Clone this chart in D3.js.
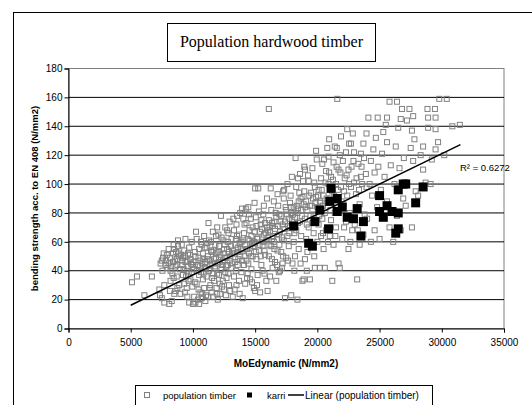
<!DOCTYPE html>
<html>
<head>
<meta charset="utf-8">
<script src="https://cdn.jsdelivr.net/npm/d3@7"></script>
<style>
  body { margin: 0; background: #fff; }
  svg { display: block; }
  text { font-family: "Liberation Sans", Arial, sans-serif; }
</style>
</head>
<body>
<div id="chart"></div>
<script>
// data
var xTicks = [0, 5000, 10000, 15000, 20000, 25000, 30000, 35000];
var yTicks = [0, 20, 40, 60, 80, 100, 120, 140, 160, 180];

var populationTimber = [
  [5100,32],[5500,36],[6100,23],[6700,36],[7300,27],[7400,45],[7500,21],[7500,47],[7600,49],[7700,18],[7800,44],[7900,51],[7350,23],[7700,30],[7950,42],
  [8100,17],[8200,40],[8200,33],[8300,19],[8400,46],[8400,52],[8500,24],[8500,55],[8600,26],[8600,43],[8700,48],[8700,36],[8800,57],[8800,61],[8900,50],[8900,30],[8050,45],[8350,38],[8650,53],[8950,41],
  [9000,24],[9100,44],[9100,58],[9200,37],[9200,49],[9300,31],[9300,54],[9400,46],[9400,62],[9500,28],[9500,40],[9600,52],[9600,43],[9700,18],[9700,56],[9800,34],[9800,48],[9900,60],[9900,39],[9050,51],[9450,36],[9850,45],
  [10000,17],[10100,22],[10100,41],[10200,18],[10200,50],[10300,31],[10300,62],[10400,20],[10400,44],[10500,17],[10500,55],[10500,37],[10600,25],[10600,47],[10700,21],[10700,58],[10800,34],[10800,52],[10900,28],[10900,64],[10950,42],[10250,67],[10650,39],[10850,48],
  [11000,19],[11000,46],[11100,36],[11100,56],[11200,22],[11200,50],[11300,40],[11300,61],[11400,30],[11400,44],[11500,25],[11500,53],[11600,38],[11600,67],[11700,48],[11700,33],[11800,58],[11800,42],[11900,28],[11900,52],[11950,70],[11250,73],[11550,45],[11850,64],[11150,48],[11650,54],
  [12000,20],[12000,45],[12100,37],[12100,57],[12200,24],[12200,51],[12300,41],[12300,63],[12400,33],[12400,47],[12500,27],[12500,55],[12600,39],[12600,70],[12700,49],[12700,35],[12800,60],[12800,44],[12900,30],[12900,53],[12950,74],[12250,78],[12550,58],[12850,66],[12150,46],[12650,43],[12450,52],
  [13000,26],[13000,50],[13100,42],[13100,62],[13200,22],[13200,54],[13300,36],[13300,68],[13400,46],[13400,58],[13500,30],[13500,72],[13600,44],[13600,56],[13700,33],[13700,65],[13800,50],[13800,80],[13900,39],[13900,60],[13950,83],[13250,76],[13650,48],[13850,55],[13150,52],[13450,62],
  [14000,21],[14000,54],[14100,44],[14100,66],[14200,31],[14200,58],[14300,47],[14300,73],[14400,38],[14400,62],[14500,52],[14500,79],[14600,34],[14600,56],[14700,64],[14700,41],[14800,70],[14800,50],[14900,28],[14900,60],[14950,87],[14250,83],[14550,68],[14850,57],[14150,50],[14650,76],
  [15000,26],[15000,59],[15100,48],[15100,71],[15200,37],[15200,63],[15300,54],[15300,81],[15400,25],[15400,67],[15500,44],[15500,75],[15600,57],[15600,40],[15700,65],[15700,85],[15800,51],[15800,73],[15900,33],[15900,61],[15950,90],[15250,97],[15550,69],[15850,66],[16100,152],[15450,72],
  [16000,26],[16000,63],[16100,50],[16100,75],[16200,36],[16200,67],[16300,57],[16300,82],[16400,42],[16400,71],[16500,60],[16500,88],[16600,46],[16600,69],[16700,33],[16700,77],[16800,54],[16800,93],[16900,39],[16900,65],[16950,79],[16250,97],[16550,74],[16850,85],[16150,70],
  [17000,40],[17000,67],[17100,53],[17100,78],[17200,45],[17200,72],[17300,61],[17300,90],[17400,21],[17400,74],[17500,49],[17500,82],[17600,64],[17600,100],[17700,57],[17700,76],[17800,70],[17800,87],[17900,23],[17900,80],[17950,105],[17250,95],[17550,79],[17850,84],[17150,42],
  [18000,45],[18000,71],[18100,60],[18100,84],[18200,50],[18200,77],[18300,68],[18300,98],[18400,20],[18400,80],[18500,55],[18500,88],[18600,74],[18600,107],[18700,64],[18700,82],[18800,33],[18800,91],[18900,34],[18900,86],[18950,112],[18250,118],[18550,94],[18850,102],[18450,83],
  [19000,48],[19000,76],[19100,62],[19100,88],[19200,53],[19200,82],[19300,70],[19300,102],[19400,34],[19400,85],[19500,58],[19500,94],[19600,73],[19600,111],[19700,66],[19700,79],[19800,42],[19800,98],[19900,91],[19900,123],[19950,117],[19250,106],[19650,90],
  [20000,60],[20000,84],[20100,72],[20100,96],[20200,42],[20200,88],[20300,64],[20300,104],[20400,76],[20400,114],[20500,55],[20500,92],[20600,42],[20600,80],[20700,68],[20700,109],[20800,87],[20800,125],[20900,100],[20900,119],[20950,131],[20250,87],
  [21000,64],[21000,90],[21100,75],[21100,105],[21200,33],[21200,95],[21300,58],[21300,115],[21400,80],[21400,126],[21500,70],[21500,100],[21600,159],[21600,85],[21700,45],[21700,110],[21800,42],[21800,120],[21900,133],[21900,98],
  [22000,62],[22100,86],[22200,104],[22300,74],[22300,122],[22400,92],[22400,138],[22500,55],[22500,110],[22600,80],[22700,98],[22700,128],[22800,68],[22850,135],[22900,116],[22950,101],
  [23000,72],[23100,93],[23200,34],[23300,114],[23400,58],[23400,86],[23500,121],[23600,100],[23700,65],[23700,128],[23800,79],[23900,107],[23950,135],[23500,105],
  [24000,76],[24100,146],[24200,100],[24300,60],[24300,116],[24400,92],[24500,124],[24600,68],[24600,108],[24700,132],[24800,84],[24850,146],[24900,112],
  [25000,62],[25100,96],[25200,121],[25300,136],[25300,78],[25400,105],[25500,141],[25600,88],[25600,129],[25800,157],[25800,70],[25900,113],[25600,146],
  [26100,60],[26200,100],[26300,126],[26400,157],[26400,78],[26500,139],[26600,111],[26700,68],[26700,145],[26800,152],[26900,90],[26950,118],
  [27100,85],[27200,144],[27200,101],[27400,152],[27500,125],[27600,70],[27700,147],[27700,116],[27800,131],[27900,95],[27600,137],
  [28100,92],[28300,120],[28500,110],[28500,126],[28700,101],[28900,146],[28900,139],[28850,152],
  [29200,117],[29500,124],[29500,146],[29500,138],[29700,129],[29800,159],[29450,152],[29100,100],
  [30400,159],[30850,140],[31450,141],[30200,120],
  // denser core of the cloud
  [7550,40],[7650,52],[7850,47],[8050,55],[8150,49],[8250,43],[8450,58],[8550,47],[8750,44],[8850,52],[9150,47],[9250,41],[9350,50],[9550,47],[9650,38],[9750,51],[9950,44],[8450,35],[8750,28],[9350,25],[9550,22],[9650,33],[9950,29],[8150,26],
  [10050,46],[10150,53],[10350,40],[10450,49],[10550,43],[10750,45],[10850,38],[10950,56],[11050,41],[11150,59],[11350,47],[11450,54],[11550,35],[11750,43],[11850,49],[11950,38],[12050,53],[12150,31],[12350,44],[12450,61],[12550,49],[12750,55],[12850,38],[12950,47],[10150,32],[10450,27],[10750,24],[11050,23],[11350,28],[11650,22],[11950,24],[12350,29],[12650,23],[12050,65],[11450,60],[10650,60],[12750,68],
  [13050,57],[13150,45],[13350,52],[13450,40],[13550,64],[13650,53],[13750,59],[13950,47],[14050,61],[14150,72],[14350,55],[14450,45],[14550,61],[14650,50],[14750,59],[14950,67],[15050,53],[15150,62],[15350,58],[15450,50],[15650,60],[15750,54],[15950,70],[13350,27],[13750,24],[14350,35],[14750,32],[15150,30],[15750,38],[13550,78],[14050,76],[14450,84],[15050,77],[15650,79],
  [16050,68],[16150,58],[16350,73],[16450,64],[16550,55],[16650,80],[16750,62],[16850,71],[16950,58],[17050,74],[17150,63],[17350,69],[17450,84],[17650,71],[17750,66],[17850,92],[17950,75],[18050,79],[18150,66],[18350,85],[18450,73],[18650,90],[18750,78],[18950,95],[19050,84],[19150,72],[19350,92],[19450,78],[19550,85],[19750,101],[19850,87],[16350,48],[16750,44],[17250,50],[17650,47],[18150,40],[18650,45],[19150,40],[19750,50],
  [20050,92],[20150,78],[20350,96],[20450,85],[20650,101],[20750,90],[20950,108],[21050,82],[21250,103],[21350,92],[21550,112],[21650,96],[21850,108],[21950,88],[22050,116],[22150,95],[22350,106],[22550,100],[22750,112],[22950,122],[23150,104],[23350,96],[23550,112],[23750,118],[23950,98],[20450,66],[20850,60],[21450,64],[22150,70],[22650,60],[23250,68],
  [15000,97],[17330,96],[19010,110],[18450,104],[20540,117],[21560,125],[22550,128]
];

var karri = [
  [18100,71],[19300,59],[19600,57],[19800,74],[20200,82],[21100,97],[20900,69],[21000,88],
  [21600,90],[21600,81],[22000,84],[22400,77],[22900,76],[23200,83],[23500,64],[23700,74],
  [25000,92],[25000,81],[25300,77],[25600,85],[26000,81],[26300,66],[26500,69],[26500,96],
  [26900,100],[27100,100],[26500,80],[27900,87],[28500,98]
];

// linear trend line (population timber), end points
var trendLine = [[5000,16.1],[31500,127.3]];
var rSquared = "R\u00b2 = 0.6272";

var svgWidth = 532;
var svgHeight = 405;

var plot = { left: 68.5, right: 504, top: 68.5, bottom: 328.5 };

var svg = d3.select("#chart")
  .append("svg")
  .attr("width", svgWidth)
  .attr("height", svgHeight);

// outer chart border (runs off the right and bottom edge)
svg.append("rect")
  .attr("x", 13.5).attr("y", 12.5)
  .attr("width", 540).attr("height", 420)
  .attr("fill", "none").attr("stroke", "#000").attr("stroke-width", 1);

// title box
svg.append("rect")
  .attr("x", 167.5).attr("y", 23.5)
  .attr("width", 208).attr("height", 38)
  .attr("fill", "#fff").attr("stroke", "#000");

svg.append("text")
  .attr("x", 271.5).attr("y", 47)
  .attr("text-anchor", "middle")
  .style("font-family", "'Liberation Serif', 'Times New Roman', serif")
  .attr("font-size", "16px")
  .text("Population hardwood timber");

var x = d3.scaleLinear().domain([0, 35000]).range([plot.left, plot.right]);
var y = d3.scaleLinear().domain([0, 180]).range([plot.bottom, plot.top]);

// plot area border
svg.append("rect")
  .attr("x", plot.left).attr("y", plot.top)
  .attr("width", plot.right - plot.left).attr("height", plot.bottom - plot.top)
  .attr("fill", "none").attr("stroke", "#808080");

// gridlines
svg.append("g")
  .selectAll("line")
  .data(yTicks.filter(d => d > 0 && d < 180))
  .enter()
  .append("line")
  .attr("x1", plot.left).attr("x2", plot.right)
  .attr("y1", d => y(d)).attr("y2", d => y(d))
  .attr("stroke", "#000").attr("stroke-width", 1);

// axes
var leftAxis = d3.axisLeft(y).tickValues(yTicks).tickSize(4).tickPadding(2).tickFormat(d3.format("d"));
var bottomAxis = d3.axisBottom(x).tickValues(xTicks).tickSize(4).tickPadding(6).tickFormat(d3.format("d"));

var yAxis = svg.append("g")
  .attr("transform", `translate(${plot.left},0)`)
  .call(leftAxis);

var xAxis = svg.append("g")
  .attr("transform", `translate(0,${plot.bottom})`)
  .call(bottomAxis);

[yAxis, xAxis].forEach(function(ax) {
  ax.selectAll("path, line").attr("stroke", "#000");
  ax.selectAll("text")
    .attr("font-size", "10px")
    .attr("fill", "#000")
    .style("font-family", "'Liberation Sans', Arial, sans-serif");
});

// axis titles
svg.append("text")
  .attr("x", 286).attr("y", 367)
  .attr("text-anchor", "middle")
  .attr("font-size", "10px")
  .attr("font-weight", "bold")
  .text("MoEdynamic (N/mm2)");

svg.append("text")
  .attr("transform", "rotate(-90)")
  .attr("x", -(plot.top + plot.bottom) / 2)
  .attr("y", 38)
  .attr("text-anchor", "middle")
  .attr("font-size", "9.5px")
  .attr("font-weight", "bold")
  .text("bending strength acc. to EN 408 (N/mm2)");

// population timber: open grey squares
var popSize = 5;
svg.append("g")
  .selectAll("rect")
  .data(populationTimber)
  .enter()
  .append("rect")
  .attr("x", d => x(d[0]) - popSize / 2)
  .attr("y", d => y(d[1]) - popSize / 2)
  .attr("width", popSize).attr("height", popSize)
  .attr("fill", "none")
  .attr("stroke", "#808080")
  .attr("stroke-width", 1);

// karri: filled black squares
var karriSize = 9;
svg.append("g")
  .selectAll("rect")
  .data(karri)
  .enter()
  .append("rect")
  .attr("x", d => x(d[0]) - karriSize / 2)
  .attr("y", d => y(d[1]) - karriSize / 2)
  .attr("width", karriSize).attr("height", karriSize)
  .attr("fill", "#000");

// trend line
var line = d3.line().x(d => x(d[0])).y(d => y(d[1]));
svg.append("path")
  .datum(trendLine)
  .attr("d", line)
  .attr("fill", "none")
  .attr("stroke", "#000")
  .attr("stroke-width", 1.5);

svg.append("text")
  .attr("x", 460).attr("y", 171)
  .attr("font-size", "9.5px")
  .text(rSquared);

// legend
var legend = svg.append("g");
legend.append("rect")
  .attr("x", 135.5).attr("y", 385.5)
  .attr("width", 297).attr("height", 30)
  .attr("fill", "#fff").attr("stroke", "#000");

legend.append("rect")
  .attr("x", 144.5).attr("y", 392.5)
  .attr("width", 5).attr("height", 5)
  .attr("fill", "none").attr("stroke", "#808080");
legend.append("text")
  .attr("x", 163).attr("y", 398.5)
  .attr("font-size", "9.5px")
  .text("population timber");

legend.append("rect")
  .attr("x", 247).attr("y", 392.5)
  .attr("width", 5).attr("height", 5)
  .attr("fill", "#000");
legend.append("text")
  .attr("x", 267).attr("y", 398.5)
  .attr("font-size", "9.5px")
  .text("karri");

legend.append("line")
  .attr("x1", 288).attr("x2", 304)
  .attr("y1", 395).attr("y2", 395)
  .attr("stroke", "#000").attr("stroke-width", 1.5);
legend.append("text")
  .attr("x", 305).attr("y", 398.5)
  .attr("font-size", "10px")
  .text("Linear (population timber)");
</script>
</body>
</html>
